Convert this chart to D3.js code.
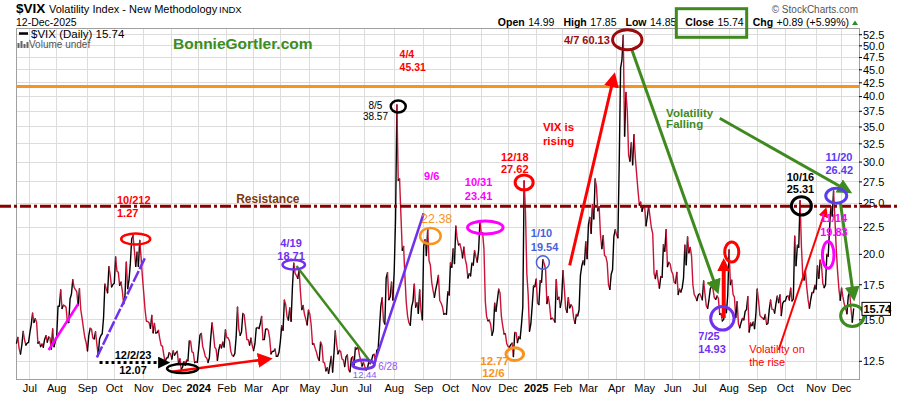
<!DOCTYPE html>
<html><head><meta charset="utf-8">
<script src="https://cdn.jsdelivr.net/npm/d3@7"></script>
<style>
html,body{margin:0;padding:0;background:#fff;}
svg{display:block;font-family:"Liberation Sans",Arial,sans-serif;}
</style></head><body>
<svg id="c" width="900" height="396"></svg>
<script>
// ---- VIX daily closes, [day, close] per month ----
const jun23=[[16,13.54],[20,13.88],[21,13.20],[22,12.91],[23,13.44],[26,14.25],[27,13.74],[28,13.43],[29,13.54],[30,13.59]];
const jul23=[[3,14.18],[5,14.69],[6,15.44],[7,14.83],[10,15.07],[11,14.84],[12,13.54],[13,13.61],[14,13.34],[17,13.48],[18,13.30],[19,13.76],[20,13.99],[21,13.60],[24,13.91],[25,13.86],[26,13.19],[27,14.41],[28,13.33],[31,13.63]];
const aug23=[[1,13.93],[2,15.92],[3,15.92],[4,17.10],[7,15.77],[8,15.99],[9,15.96],[10,15.85],[11,14.84],[14,14.82],[15,16.46],[16,16.78],[17,17.89],[18,17.30],[21,17.13],[22,16.97],[23,15.98],[24,17.20],[25,15.68],[28,15.08],[29,14.45],[30,13.88],[31,13.57]];
const sep23=[[1,13.09],[5,14.02],[6,14.45],[7,14.40],[8,13.84],[11,13.80],[12,14.23],[13,13.48],[14,12.82],[15,13.79],[18,14.00],[19,14.11],[20,15.14],[21,17.54],[22,17.20],[25,16.90],[26,18.94],[27,18.22],[28,17.34],[29,17.52]];
const oct23=[[2,17.61],[3,19.78],[4,18.58],[5,18.49],[6,17.45],[9,17.70],[10,17.03],[11,16.09],[12,16.69],[13,19.32],[16,17.21],[17,17.88],[18,19.22],[19,21.40],[20,21.71],[23,20.37],[24,18.97],[25,20.19],[26,18.97],[27,21.27],[30,19.75],[31,18.14]];
const nov23=[[1,16.87],[2,15.66],[3,14.91],[6,14.89],[7,14.81],[8,14.45],[9,15.29],[10,14.17],[13,14.76],[14,14.16],[15,14.18],[16,14.32],[17,13.80],[20,13.41],[21,13.35],[22,12.85],[24,12.46],[27,12.69],[28,12.69],[29,12.98],[30,12.92]];
const dec23=[[1,12.63],[4,13.08],[5,12.85],[6,12.97],[7,13.06],[8,12.35],[11,12.63],[12,12.07],[13,12.19],[14,12.48],[15,12.28],[18,12.56],[19,12.53],[20,13.67],[21,13.65],[22,13.03],[26,12.99],[27,12.43],[28,12.47],[29,12.45]];
const jan24=[[2,13.20],[3,14.04],[4,14.13],[5,13.35],[8,13.08],[9,12.76],[10,12.69],[11,12.44],[12,12.70],[16,13.84],[17,14.79],[18,14.13],[19,13.30],[22,13.19],[23,12.55],[24,13.14],[25,13.45],[26,13.26],[29,13.60],[30,13.31],[31,14.35]];
const feb24=[[1,13.88],[2,13.85],[5,13.67],[6,13.06],[7,12.83],[8,12.79],[9,12.93],[12,13.93],[13,15.85],[14,14.38],[15,14.01],[16,14.24],[20,15.42],[21,15.34],[22,14.54],[23,13.75],[26,13.74],[27,13.43],[28,13.84],[29,13.40]];
const mar24=[[1,13.11],[4,13.49],[5,14.46],[6,14.50],[7,14.44],[8,14.74],[11,15.23],[12,13.75],[13,13.75],[14,14.40],[15,14.41],[18,14.33],[19,13.82],[20,12.92],[21,13.06],[22,13.06],[25,13.19],[26,12.78],[27,12.78],[28,13.01]];
const apr24=[[1,13.65],[2,14.61],[3,14.33],[4,16.35],[5,16.03],[8,15.19],[9,14.98],[10,15.80],[11,14.91],[12,17.31],[15,19.23],[16,18.40],[17,18.21],[18,18.00],[19,18.71],[22,16.94],[23,15.69],[24,15.97],[25,15.37],[26,15.03],[29,14.67],[30,15.65]];
const may24=[[1,15.39],[2,14.68],[3,13.49],[6,13.49],[7,13.23],[8,13.00],[9,12.69],[10,12.55],[13,13.60],[14,13.42],[15,12.45],[16,12.42],[17,11.99],[20,12.15],[21,11.86],[22,12.29],[23,12.77],[24,11.93],[28,12.92],[29,14.28],[30,13.49],[31,12.92]];
const jun24=[[3,13.11],[4,13.06],[5,12.63],[6,12.58],[7,12.22],[10,12.74],[11,12.85],[12,12.04],[13,11.94],[14,12.66],[17,12.75],[18,12.30],[20,13.28],[21,13.20],[24,13.33],[25,12.84],[26,12.55],[27,12.24],[28,12.44]];
const jul24=[[1,12.22],[2,12.03],[3,12.09],[5,12.48],[8,12.37],[9,12.51],[10,12.85],[11,12.89],[12,12.46],[15,13.12],[16,13.19],[17,14.48],[18,15.93],[19,16.52],[22,14.91],[23,14.72],[24,18.04],[25,18.46],[26,16.39],[29,16.60],[30,17.69],[31,16.36]];
const aug24=[[1,18.59],[2,23.39],[5,38.57],[6,27.71],[7,27.85],[8,23.79],[9,20.37],[12,20.71],[13,18.12],[14,16.19],[15,15.23],[16,14.80],[19,14.65],[20,15.88],[21,16.27],[22,17.55],[23,15.86],[26,16.15],[27,15.43],[28,17.11],[29,15.65],[30,15.00]];
const sep24=[[3,20.72],[4,21.32],[5,19.90],[6,22.38],[9,19.45],[10,19.08],[11,17.69],[12,17.07],[13,16.56],[16,17.14],[17,17.61],[18,18.23],[19,16.33],[20,16.15],[23,15.89],[24,15.39],[25,15.41],[26,15.37],[27,16.96],[30,16.73]];
const oct24=[[1,19.26],[2,18.90],[3,20.49],[4,19.21],[7,22.64],[8,21.42],[9,20.86],[10,20.93],[11,20.46],[14,19.70],[15,20.64],[16,19.58],[17,19.11],[18,18.03],[21,18.37],[22,18.20],[23,19.24],[24,19.08],[25,20.33],[28,19.80],[29,19.34],[30,20.35],[31,23.16]];
const nov24=[[1,21.88],[4,21.98],[5,20.49],[6,16.27],[7,15.20],[8,14.94],[11,14.97],[12,14.71],[13,14.02],[14,14.31],[15,16.14],[18,15.58],[19,16.35],[20,17.16],[21,16.87],[22,15.24],[25,14.60],[26,14.10],[27,14.10],[29,13.51]];
const dec24=[[2,13.34],[3,13.30],[4,13.45],[5,13.54],[6,12.77],[9,14.19],[10,14.18],[11,13.58],[12,13.92],[13,13.81],[16,14.69],[17,15.87],[18,27.62],[19,24.09],[20,18.36],[23,16.78],[24,14.27],[26,14.73],[27,15.95],[30,17.40],[31,17.35]];
const jan25=[[2,17.93],[3,16.13],[6,16.04],[7,17.82],[8,17.70],[10,19.54],[13,19.19],[14,18.71],[15,16.12],[16,16.60],[17,15.97],[21,15.06],[22,15.10],[23,15.02],[24,14.85],[27,17.90],[28,16.41],[29,16.56],[30,15.84],[31,16.43]];
const feb25=[[3,18.62],[4,17.21],[5,15.77],[6,15.50],[7,16.54],[10,15.81],[11,16.02],[12,15.89],[13,15.10],[14,14.77],[18,15.35],[19,15.27],[20,15.66],[21,18.21],[24,18.98],[25,19.43],[26,19.10],[27,21.13],[28,19.63]];
const mar25=[[3,22.78],[4,23.51],[5,21.93],[6,24.87],[7,23.37],[10,27.86],[11,26.92],[12,24.23],[13,24.66],[14,21.77],[17,20.51],[18,21.70],[19,19.90],[20,19.80],[21,19.28],[24,17.48],[25,17.15],[26,18.33],[27,18.69],[28,21.65],[31,22.28]];
const apr25=[[1,21.77],[2,21.51],[3,30.02],[4,45.31],[7,46.98],[8,52.33],[9,33.62],[10,40.72],[11,37.56],[14,30.89],[15,30.12],[16,32.64],[17,29.65],[21,33.82],[22,30.57],[23,28.45],[24,26.47],[25,24.84],[28,25.15],[29,24.17],[30,24.70]];
const may25=[[1,24.60],[2,22.68],[5,23.64],[6,24.76],[7,23.55],[8,22.48],[9,21.90],[12,18.39],[13,17.99],[14,18.62],[15,17.83],[16,17.24],[19,18.14],[20,18.09],[21,20.87],[22,20.28],[23,22.29],[27,18.96],[28,19.31],[29,19.18],[30,18.57]];
const jun25=[[2,18.36],[3,17.69],[4,17.61],[5,18.48],[6,16.77],[9,17.16],[10,16.95],[11,17.26],[12,18.02],[13,20.82],[16,19.11],[17,21.60],[18,20.14],[20,20.62],[23,19.83],[24,17.48],[25,16.76],[26,16.59],[27,16.32],[30,16.73]];
const jul25=[[1,16.83],[2,16.64],[3,16.38],[7,17.79],[8,16.81],[9,15.94],[10,15.78],[11,16.40],[14,17.20],[15,17.38],[16,17.16],[17,16.52],[18,16.41],[21,16.65],[22,16.50],[23,15.37],[24,15.39],[25,14.93],[28,15.03],[29,15.98],[30,15.48],[31,16.72]];
const aug25=[[1,20.38],[4,17.52],[5,17.85],[6,16.77],[7,16.57],[8,15.15],[11,16.25],[12,14.73],[13,14.49],[14,14.83],[15,15.09],[18,15.00],[19,15.57],[20,15.69],[21,16.60],[22,14.22],[25,14.79],[26,14.62],[27,14.85],[28,14.43],[29,15.36]];
const sep25=[[2,17.17],[3,16.35],[4,15.30],[5,15.18],[8,15.11],[9,15.04],[10,15.35],[11,14.71],[12,14.76],[15,15.69],[16,16.36],[17,15.72],[18,15.70],[19,15.45],[22,16.10],[23,16.64],[24,16.18],[25,16.74],[26,15.29],[29,16.12],[30,16.28]];
const oct25=[[1,16.29],[2,16.63],[3,16.65],[6,16.37],[7,17.24],[8,16.30],[9,16.43],[10,21.66],[13,19.03],[14,20.81],[15,20.64],[16,25.31],[17,20.78],[20,18.23],[21,17.87],[22,18.60],[23,17.30],[24,16.37],[27,15.79],[28,16.42],[29,16.92],[30,16.91],[31,17.44]];
const nov25=[[3,17.17],[4,19.00],[5,18.01],[6,19.50],[7,19.08],[10,17.60],[11,17.28],[12,17.51],[13,20.00],[14,19.83],[17,22.38],[18,24.69],[19,23.66],[20,26.42],[21,23.43],[24,20.52],[25,18.56],[26,17.19],[28,16.35]];
const dec25=[[1,17.24],[2,16.59],[3,16.08],[4,15.78],[5,15.41],[8,16.66],[9,16.93],[10,15.77],[11,14.85],[12,15.74]];

const monthSeries=[[2023,6,jun23],[2023,7,jul23],[2023,8,aug23],[2023,9,sep23],[2023,10,oct23],[2023,11,nov23],[2023,12,dec23],
 [2024,1,jan24],[2024,2,feb24],[2024,3,mar24],[2024,4,apr24],[2024,5,may24],[2024,6,jun24],[2024,7,jul24],[2024,8,aug24],[2024,9,sep24],[2024,10,oct24],[2024,11,nov24],[2024,12,dec24],
 [2025,1,jan25],[2025,2,feb25],[2025,3,mar25],[2025,4,apr25],[2025,5,may25],[2025,6,jun25],[2025,7,jul25],[2025,8,aug25],[2025,9,sep25],[2025,10,oct25],[2025,11,nov25],[2025,12,dec25]];

const monthLabels=["Jul","Aug","Sep","Oct","Nov","Dec","2024","Feb","Mar","Apr","May","Jun","Jul","Aug","Sep","Oct","Nov","Dec","2025","Feb","Mar","Apr","May","Jun","Jul","Aug","Sep","Oct","Nov","Dec"];
const yTicks=[12.5,15,17.5,20,22.5,25,27.5,30,32.5,35,37.5,40,42.5,45,47.5,50,52.5];
const lastClose=15.74;
const headerTokens=[["Open",1],["14.99",0],["High",1],["17.85",0],["Low",1],["14.85",0],["Close",1],["15.74",0],["Chg",1],["+0.89 (+5.99%)",0]];
const orangeLevel=41.8, resistanceLevel=24.7;

// colours
const RED="#ff0000",DARKRED="#9b0b0b",PURPLE="#7030f0",VIOLET="#5a3cf0",BLUE="#4a5fe0",MAGENTA="#ff00ff",
      ORANGE="#f7941d",GREEN="#3f8a1f",BROWN="#7b3a10",RESIST="#8b0000",UPC="#000000",DOWNC="#cc1236",LILAC="#8f55f2";

// annotations in data space: [date, value, rx, ry, colour, width]
const ellipses=[
 ["2023-10-24",21.4,14.5,5.5,RED,2.5],
 ["2023-12-13",12.11,15.5,4.5,"#000",2.5],
 ["2024-04-15",19.11,11.2,4.7,PURPLE,2.5],
 ["2024-06-28",12.33,11,4.5,PURPLE,3],
 ["2024-08-06",38.3,7.5,6,"#000",2.5],
 ["2024-09-10",21.68,10.3,8,ORANGE,2.5],
 ["2024-11-06",22.51,17.8,6.5,MAGENTA,3],
 ["2024-12-18",27.43,9,7.5,RED,3],
 ["2024-12-09",12.90,8.8,6.3,ORANGE,3],
 ["2025-01-10",19.30,6.5,6.8,BLUE,1.5],
 ["2025-04-11",51.36,14.7,10,DARKRED,3],
 ["2025-07-25",15.10,11.7,11.7,PURPLE,3],
 ["2025-08-05",20.21,7,10,RED,3],
 ["2025-10-17",24.75,10,9.2,"#000",3],
 ["2025-11-14",19.95,5.8,13.3,MAGENTA,3],
 ["2025-11-24",25.87,10.5,7.5,VIOLET,3],
 ["2025-12-11",15.27,11.7,10.8,GREEN,3]
];
// [date1, v1, date2, v2, colour, width, dash, arrowSize]
const segments=[
 ["2023-07-24",13.14,"2023-08-23",16.08,MAGENTA,2.5,null,0],
 ["2023-09-13",12.72,"2023-11-02",19.71,PURPLE,2.5,"12,2",0],
 ["2023-09-15",12.43,"2023-11-27",12.43,"#000",3,"3,3",12],
 ["2023-12-01",11.94,"2024-03-18",12.63,RED,2.5,null,15],
 ["2024-04-17",19.0,"2024-07-09",12.39,GREEN,2.5,null,0],
 ["2024-07-11",12.36,"2024-09-03",23.96,PURPLE,2.5,null,0],
 ["2025-02-10",19.06,"2025-03-28",43.69,RED,3,null,15],
 ["2025-04-16",49.46,"2025-07-21",17.10,GREEN,3,null,15],
 ["2025-07-23",36.36,"2025-12-08",26.42,GREEN,3,null,15],
 ["2025-07-28",15.12,"2025-07-28",19.34,RED,4,null,13],
 ["2025-09-24",13.14,"2025-11-12",24.30,RED,2,null,10],
 ["2025-11-28",25.20,"2025-12-12",16.58,GREEN,3,null,15]
];
// [text, date, value, anchor, colour, size, bold]
const notes=[
 ["10/212","2023-10-04",24.95,"start",RED,11,1],
 ["1.27","2023-10-04",23.57,"start",RED,11,1],
 ["12/2/23","2023-10-20",12.63,"middle","#000",11,1],
 ["12.07","2023-10-20",11.82,"middle","#000",11,1],
 ["Resistance","2024-02-12",25.06,"start",BROWN,12,1],
 ["4/19","2024-04-11",20.65,"middle",PURPLE,11,1],
 ["18.71","2024-04-11",19.51,"middle",PURPLE,11,1],
 ["6/28","2024-07-16",12.03,"start",LILAC,10,0],
 ["12.44","2024-07-01",11.63,"middle",LILAC,9.5,0],
 ["8/5","2024-07-12",37.88,"middle","#000",10,0],
 ["38.57","2024-07-12",36.17,"middle","#000",10,0],
 ["4/4","2024-08-07",47.39,"start",RED,10.5,1],
 ["45.31","2024-08-07",44.70,"start",RED,10.5,1],
 ["22.38","2024-08-29",22.95,"start",ORANGE,12.5,0],
 ["9/6","2024-09-11",27.72,"middle",MAGENTA,11,1],
 ["10/31","2024-10-30",27.0,"middle",MAGENTA,11,1],
 ["23.41","2024-10-30",25.39,"middle",MAGENTA,11,1],
 ["12/18","2024-12-09",30.14,"middle",RED,11,1],
 ["27.62","2024-12-09",28.56,"middle",RED,11,1],
 ["12.77","2024-11-15",12.30,"middle",ORANGE,11.5,1],
 ["12/6","2024-11-14",11.67,"middle",ORANGE,11.5,1],
 ["1/10","2024-12-26",21.58,"start",BLUE,11,1],
 ["19.54","2024-12-26",20.30,"start",BLUE,11,1],
 ["VIX is","2025-01-10",34.40,"start",RED,11.5,1],
 ["rising","2025-01-10",32.30,"start",RED,11.5,1],
 ["4/7 60.13","2025-03-25",50.4,"end",DARKRED,11,1],
 ["Volatility","2025-05-23",36.65,"start",GREEN,11.5,1],
 ["Falling","2025-05-23",34.85,"start",GREEN,11.5,1],
 ["7/25","2025-06-30",13.73,"start",PURPLE,11,1],
 ["14.93","2025-06-30",12.95,"start",PURPLE,11,1],
 ["10/16","2025-10-02",27.61,"start","#000",11,1],
 ["25.31","2025-10-02",26.19,"start","#000",11,1],
 ["Volatility on","2025-08-22",12.97,"start",RED,11,0],
 ["the rise","2025-08-22",12.25,"start",RED,11,0],
 ["11/14","2025-11-06",23.05,"start",MAGENTA,11,1],
 ["19.83","2025-11-06",21.68,"start",MAGENTA,11,1],
 ["11/20","2025-11-12",30.14,"start",VIOLET,11,1],
 ["26.42","2025-11-12",28.47,"start",VIOLET,11,1]
];

// ---- build series ----
const data=[];
monthSeries.forEach(([yr,m,arr])=>arr.forEach(([d,v])=>data.push({date:new Date(yr,m-1,d),v})));
const n=data.length;

const L=16.5,R=859,T=28,B=379;
const x=d3.scaleLinear().domain([0,n-1+4]).range([L,R]);
const y=d3.scaleLog().domain([11.566,54.07]).range([B,T]);
function xd(s){
  const t=+new Date(s+"T00:00:00");
  for(let i=0;i<n;i++){
    const di=+data[i].date;
    if(di===t) return x(i);
    if(di>t){ if(i===0) return x(0); const dp=+data[i-1].date; return x(i-1+(t-dp)/(di-dp)); }
  }
  return x(n-1+(t-+data[n-1].date)/864e5*5/7);
}

const svg=d3.select("#c");
const defs=svg.append("defs");
function marker(color,size){
  const id="m"+color.replace("#","")+"_"+size;
  if(!document.getElementById(id)){
    defs.append("marker").attr("id",id).attr("viewBox","0 0 10 10").attr("refX",7).attr("refY",5)
      .attr("markerWidth",size).attr("markerHeight",size).attr("markerUnits","userSpaceOnUse").attr("orient","auto")
      .append("path").attr("d","M0,0L10,5L0,10z").attr("fill",color);
  }
  return "url(#"+id+")";
}

// ---- grid ----
const monthIdx=[];
for(let i=1;i<n;i++){ if(data[i].date.getMonth()!==data[i-1].date.getMonth()) monthIdx.push(i); }
const grid=svg.append("g");
grid.selectAll("line.v").data(monthIdx).join("line")
  .attr("x1",i=>x(i)).attr("x2",i=>x(i)).attr("y1",T).attr("y2",B)
  .attr("stroke","#dcdcdc").attr("stroke-width",1).attr("shape-rendering","crispEdges");
grid.selectAll("line.h").data(yTicks).join("line")
  .attr("x1",L).attr("x2",R).attr("y1",d=>y(d)).attr("y2",d=>y(d))
  .attr("stroke","#dcdcdc").attr("stroke-width",1).attr("shape-rendering","crispEdges");

// plot frame
svg.append("rect").attr("x",L).attr("y",T).attr("width",R-L).attr("height",B-T)
  .attr("fill","none").attr("stroke","#a0a0a0").attr("stroke-width",1).attr("shape-rendering","crispEdges");

// x labels
const xl=svg.append("g").attr("font-size",11).attr("fill","#000");
monthIdx.forEach((i,k)=>{
  const lab=monthLabels[k]; if(lab===undefined) return;
  xl.append("text").attr("x",x(i)).attr("y",391.5).attr("text-anchor","middle")
    .attr("font-weight",/^\d/.test(lab)?"bold":"normal").text(lab);
});

// y axis ticks/labels
const yl=svg.append("g");
yTicks.forEach(t=>{
  yl.append("line").attr("x1",R).attr("x2",R+3).attr("y1",y(t)).attr("y2",y(t)).attr("stroke","#000");
  yl.append("text").attr("x",R+4).attr("y",y(t)).attr("dy","0.35em").attr("font-size",11).text(t.toFixed(1));
});

// orange level
svg.append("line").attr("x1",L).attr("x2",R).attr("y1",y(orangeLevel)).attr("y2",y(orangeLevel))
  .attr("stroke",ORANGE).attr("stroke-width",3);

// price line, black up / crimson down
const runs=[];
for(let i=1;i<n;i++){
  const up=data[i].v>=data[i-1].v;
  const last=runs[runs.length-1];
  if(last&&last.up===up) last.pts.push(i); else runs.push({up,pts:[i-1,i]});
}
svg.append("g").selectAll("path").data(runs).join("path")
  .attr("d",r=>d3.line()(r.pts.map(i=>[x(i),y(data[i].v)])))
  .attr("fill","none").attr("stroke",r=>r.up?UPC:DOWNC).attr("stroke-width",1.4)
  .attr("stroke-linejoin","round").attr("stroke-linecap","round");

// resistance
svg.append("line").attr("x1",0).attr("x2",900).attr("y1",y(resistanceLevel)).attr("y2",y(resistanceLevel))
  .attr("stroke",RESIST).attr("stroke-width",3).attr("stroke-dasharray","11,3,3,3");

// annotation lines/arrows
const ag=svg.append("g");
segments.forEach(([d1,v1,d2,v2,c,w,dash,a])=>{
  const ln=ag.append("line").attr("x1",xd(d1)).attr("y1",y(v1)).attr("x2",xd(d2)).attr("y2",y(v2))
    .attr("stroke",c).attr("stroke-width",w);
  if(dash) ln.attr("stroke-dasharray",dash);
  if(a) ln.attr("marker-end",marker(c,a));
});
// ellipses
ag.selectAll("ellipse").data(ellipses).join("ellipse")
  .attr("cx",d=>xd(d[0])).attr("cy",d=>y(d[1])).attr("rx",d=>d[2]).attr("ry",d=>d[3])
  .attr("fill","none").attr("stroke",d=>d[4]).attr("stroke-width",d=>d[5]);
// notes
ag.selectAll("text").data(notes).join("text")
  .attr("x",d=>xd(d[1])).attr("y",d=>y(d[2])).attr("text-anchor",d=>d[3])
  .attr("fill",d=>d[4]).attr("font-size",d=>d[5]).attr("font-weight",d=>d[6]?"bold":"normal").text(d=>d[0]);

// last price box
const ly=y(lastClose);
svg.append("rect").attr("x",862).attr("y",ly-6.5).attr("width",28.5).attr("height",13)
  .attr("fill","#fff").attr("stroke","#000").attr("stroke-width",1);
svg.append("text").attr("x",863.5).attr("y",ly).attr("dy","0.36em").attr("font-size",11).attr("font-weight","bold").text(lastClose.toFixed(2));

// ---- header / legend ----
svg.append("text").attr("x",16).attr("y",13).attr("font-size",13.5).attr("font-weight","bold").text("$VIX");
svg.append("text").attr("x",49).attr("y",12.7).attr("font-size",11).text("Volatility Index - New Methodology");
svg.append("text").attr("x",219).attr("y",12.7).attr("font-size",9.5).text("INDX");
svg.append("text").attr("x",16).attr("y",26).attr("font-size",10.5).text("12-Dec-2025");
svg.append("text").attr("x",858).attr("y",13).attr("text-anchor","end").attr("font-size",10).attr("fill","#555").text("\u00A9 StockCharts.com");

// OHLC tokens laid out right to left
const hg=svg.append("g").attr("font-size",10.5);
const tokEls=headerTokens.map(([t,b])=>hg.append("text").attr("y",26).attr("font-weight",b?"bold":"normal").text(t));
const widths=tokEls.map(e=>e.node().getComputedTextLength());
const gaps=headerTokens.map((t,k)=>k===0?0:(k%2===1?3.5:9));
let total=widths.reduce((a,b)=>a+b,0)+gaps.reduce((a,b)=>a+b,0);
let cx=849-total;
const xs=[];
tokEls.forEach((e,k)=>{cx+=gaps[k]; xs.push(cx); e.attr("x",cx); cx+=widths[k];});
svg.append("path").attr("d","M852,25L855,20.5L858,25Z").attr("fill","#2e8b2e");
// green box around Close
const bx0=xs[6]-9, bx1=xs[7]+widths[7]+3;
svg.append("rect").attr("x",bx0).attr("y",8.7).attr("width",bx1-bx0).attr("height",28.6)
  .attr("fill","none").attr("stroke",GREEN).attr("stroke-width",3);

// legend
svg.append("line").attr("x1",19).attr("x2",28).attr("y1",33.5).attr("y2",33.5).attr("stroke","#000").attr("stroke-width",2.5);
svg.append("text").attr("x",31).attr("y",37.5).attr("font-size",11.5).text("$VIX (Daily) 15.74");
[[17.5,5],[20.5,7],[23.5,4],[26.5,6]].forEach(([bx,h])=>svg.append("rect").attr("x",bx).attr("y",48-h).attr("width",2).attr("height",h).attr("fill","#666"));
svg.append("text").attr("x",29).attr("y",48).attr("font-size",10).attr("fill","#555").text("Volume undef");
svg.append("text").attr("x",173).attr("y",49).attr("font-size",15.5).attr("font-weight","bold").attr("fill","#3c8c1e").text("BonnieGortler.com");
</script>
</body></html>
